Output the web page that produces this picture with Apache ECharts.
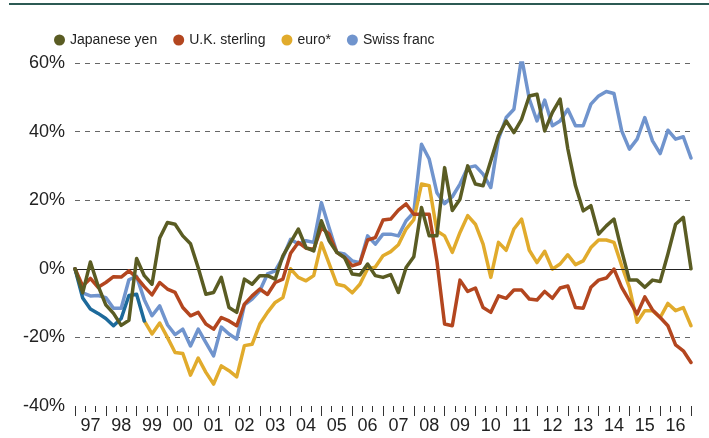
<!DOCTYPE html>
<html>
<head>
<meta charset="utf-8">
<script src="https://cdn.jsdelivr.net/npm/echarts@6/dist/echarts.min.js"></script>
<style>
html,body{margin:0;padding:0;background:#fff;}
#chart{width:709px;height:438px;}
</style>
</head>
<body>
<div id="chart"></div>
<script>
// Quarterly observations, 1997Q1 .. 2017Q1 (81 points)
const startYear = 1997;
const yearLabels = ['97','98','99','00','01','02','03','04','05','06','07','08','09','10','11','12','13','14','15','16'];
const yAxisTicks = [-40, -20, 0, 20, 40, 60];

const yen = [0, -7, 2, -5, -10.5, -13, -16.5, -15, 3, -2,
  -4.5, 9, 13.5, 13, 9.6, 7.3, 0.3, -7.4, -6.9, -2.5,
  -11.3, -12.7, -3, -4.5, -2, -2, -3, 3.8, 7.7, 11.6,
  6.2, 5.2, 14, 8.2, 4.8, 3.3, -1.5, -1.8, 1.4, -2,
  -2.5, -1.7, -6.9, 0.4, 3.5, 17.9, 9.6, 9.6, 29.5, 17,
  20.3, 30, 24.7, 24.2, 31.5, 38.8, 43.1, 39.7, 43.6, 50.4,
  50.9, 40.2, 45.6, 49.5, 35, 24.2, 16.9, 18.4, 10.1, 12.5,
  14.5, 5.2, -3.3, -3.3, -5.4, -3.3, -3.7, 4.3, 13, 15,
  0];

const sterling = [0, -5, -2.8, -5.4, -4, -2.3, -2.4, -0.6, -2.5, -5.2,
  -7.6, -4, -5.9, -6.9, -11.3, -13.7, -12.7, -16.1, -17.6, -14.2,
  -15.2, -16.6, -10.3, -7.9, -5.9, -7.5, -4, -3, 4.5, 7.7,
  6, 5.7, 12, 10.1, 4.8, 3.3, 0.9, 1.6, 8.4, 9.1,
  14.2, 14.5, 17.1, 18.9, 15.9, 15.9, 15.9, 2.3, -16.1, -16.6,
  -3.3, -6.6, -5.6, -11.3, -12.7, -7.9, -8.6, -6.2, -6.2, -8.8,
  -9.1, -6.6, -8.6, -5.6, -5, -11.3, -11.5, -5.4, -3.3, -2.7,
  -0.1, -5.4, -9.3, -13.2, -8.2, -12, -14.2, -16.6, -22.2, -23.9,
  -27.3];

// euro from 1999 (index 9); earlier values belong to the predecessor line
const euro = [null, null, null, null, null, null, null, null, null,
  -15.2, -19, -15.8, -20, -24.4, -24.7, -31, -26, -30.2, -33.6,
  -28.3, -29.7, -31.5, -22.4, -22, -16.1, -12.7, -9.8, -8.4, 0,
  -2.5, -3.5, -2, 7.5, 1.5, -4.5, -5, -7, -4.5, 0,
  0.5, 3.8, 5, 7, 11.6, 14.3, 24.7, 24.2, 11, 9.6,
  4.8, 10.6, 15.5, 13, 7.2, -2.5, 7.7, 5.4, 11.6, 14.5,
  5.4, 1.8, 5.1, -0.1, 1.4, 4.1, 1.2, 2.3, 6.2, 8.4,
  8.4, 7.7, 0.9, -5.4, -15.6, -12.2, -12.2, -14.2, -10.1, -12.2,
  -11.3, -16.6];

const preEuro = [0, -8.5, -11.7, -13, -14.5, -16.6, -14.5, -7.8, -7.4, -15.2];

const swiss = [0, -7, -7.9, -7.8, -8.4, -11.5, -11.5, -3.2, -2.2, -9,
  -13.7, -10.8, -16.3, -19.2, -17.6, -22.5, -17.6, -21.5, -25.4, -17,
  -19, -20.5, -10.5, -8.8, -6.4, -1.5, -0.6, 3.3, 8.6, 7.2,
  8.2, 7.7, 19.3, 12, 4.8, 4.3, 2.3, 1.8, 9.6, 7.2,
  10.1, 10.1, 9.6, 14, 16.4, 36.3, 32, 22.2, 19, 21,
  24.7, 29.5, 30, 27.6, 23.7, 37.8, 44.1, 46.5, 61.6, 49.5,
  43.1, 49.2, 41.7, 43.1, 46.5, 41.7, 41.7, 48, 50.4, 51.7,
  51.1, 40.2, 34.9, 37.8, 44.1, 37.3, 33.6, 40.4, 37.8, 38.5,
  32.3];

const seriesNames = ['Japanese yen', 'U.K. sterling', 'euro*', 'Swiss franc'];

function pairs(arr) { return arr.map((v, i) => [startYear + i / 4, v]); }

const chart = echarts.init(document.getElementById('chart'), null, {renderer: 'canvas'});
const lineBase = (name, data, color, z) => ({
  name, type: 'line', data: pairs(data), showSymbol: false, symbol: 'none',
  lineStyle: {color, width: 3.5, cap: 'round', join: 'round'},
  itemStyle: {color}, z, silent: true, animation: false, connectNulls: false
});

chart.setOption({
  animation: false,
  textStyle: {fontFamily: 'Liberation Sans, Arial, sans-serif'},
  grid: {left: 75, right: 18, top: 63, bottom: 32},
  graphic: [{type: 'line', shape: {x1: 9, y1: 4, x2: 709, y2: 4}, style: {stroke: '#2c5a54', lineWidth: 2}}],
  legend: {
    data: seriesNames, left: 54, top: 30, padding: 0, itemWidth: 11, itemHeight: 11, itemGap: 16,
    icon: 'circle',
    textStyle: {fontFamily: 'Liberation Sans, Arial, sans-serif', fontSize: 14, color: '#222', lineHeight: 20}
  },
  xAxis: [{
    type: 'value', min: 1997, max: 2017, interval: 1, position: 'bottom',
    axisLine: {show: false, onZero: false},
    axisTick: {show: true, length: 10, lineStyle: {color: '#333', width: 1}},
    minorTick: {show: true, splitNumber: 3, length: 6, lineStyle: {color: '#333', width: 1}},
    axisLabel: {show: false}, splitLine: {show: false}, minorSplitLine: {show: false}
  }, {
    type: 'category', data: yearLabels, position: 'bottom', boundaryGap: true,
    axisLine: {show: false, onZero: false}, axisTick: {show: false}, splitLine: {show: false},
    axisLabel: {fontSize: 18, color: '#222', margin: 11, interval: 0, fontFamily: 'Liberation Sans, Arial, sans-serif'}
  }],
  yAxis: {
    type: 'value', min: -40, max: 60, interval: 20,
    axisLine: {show: false}, axisTick: {show: false},
    axisLabel: {fontSize: 18, color: '#222', margin: 10, formatter: v => v + '%'},
    splitLine: {show: true, lineStyle: {type: [5, 5], width: 1,
      color: ['rgba(0,0,0,0)', '#666', 'rgba(0,0,0,0)', '#666', '#666', '#666']}}
  },
  series: [
    {name: 'zero', type: 'line', data: [], z: 1, silent: true,
     markLine: {symbol: 'none', silent: true, label: {show: false}, animation: false,
       lineStyle: {color: '#222', width: 1, type: 'solid'}, data: [{yAxis: 0}]}},
    lineBase('Swiss franc', swiss, '#7094cd', 2),
    lineBase('euro*', euro, '#e1ab2c', 3),
    lineBase('pre-euro', preEuro, '#1d6a9b', 4),
    lineBase('U.K. sterling', sterling, '#b3461f', 5),
    lineBase('Japanese yen', yen, '#5a5c23', 6)
  ]
});
</script>
</body>
</html>
